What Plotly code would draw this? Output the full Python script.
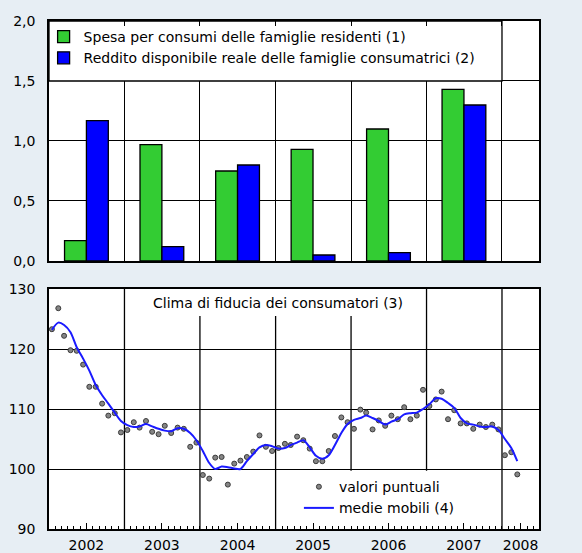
import pandas as pd
import plotly.graph_objects as go

# ---------------- data ----------------
YEARS = ["2002", "2003", "2004", "2005", "2006", "2007"]
SPESA = [0.17, 0.97, 0.75, 0.93, 1.10, 1.43]
REDDITO = [1.17, 0.12, 0.80, 0.05, 0.07, 1.30]

PUNTUALI_2002 = [123.3, 126.8, 122.2, 119.8, 119.7, 117.4, 113.7, 113.7, 110.9, 108.9, 109.3, 106.1]
PUNTUALI_2003 = [106.5, 107.8, 106.9, 108.0, 106.2, 105.8, 107.2, 106.0, 106.9, 106.7, 103.7, 104.4]
PUNTUALI_2004 = [99.0, 98.4, 101.9, 102.0, 97.4, 100.9, 101.4, 102.0, 102.9, 105.6, 103.7, 103.0]
PUNTUALI_2005 = [103.5, 104.2, 104.0, 105.4, 104.8, 103.4, 101.3, 101.3, 103.0, 105.5, 108.6, 107.8]
PUNTUALI_2006 = [106.7, 109.9, 109.4, 106.6, 108.1, 107.2, 108.9, 108.3, 110.3, 108.3, 108.9, 113.2]
PUNTUALI_2007 = [110.5, 111.6, 112.9, 108.3, 109.8, 107.6, 107.6, 106.7, 107.4, 107.0, 107.4, 106.6]
PUNTUALI_2008 = [102.3, 102.8, 99.1]

MEDIE_2002 = [123.2, 124.4, 124.0, 122.8, 120.3, 118.4, 116.4, 114.0, 112.3, 110.9, 109.4, 108.0]
MEDIE_2003 = [107.3, 107.0, 107.1, 107.5, 107.1, 106.7, 106.4, 106.3, 106.8, 106.7, 106.0, 104.8]
MEDIE_2004 = [103.0, 101.0, 100.0, 100.4, 100.3, 100.1, 100.0, 101.3, 102.5, 103.6, 104.0, 103.8]
MEDIE_2005 = [103.4, 103.5, 104.0, 104.4, 104.8, 103.6, 102.2, 101.7, 102.3, 104.0, 106.0, 107.5]
MEDIE_2006 = [108.2, 108.5, 108.9, 108.5, 108.0, 107.4, 107.9, 108.3, 109.1, 109.3, 109.4, 110.0]
MEDIE_2007 = [110.8, 111.8, 111.7, 111.0, 110.2, 108.5, 107.6, 107.4, 107.1, 107.0, 107.1, 106.5]
MEDIE_2008 = [105.0, 103.5, 101.3]

X_TICK_LABELS = ["2002", "2003", "2004", "2005", "2006", "2007", "2008"]

# ---------------- derived ----------------
puntuali = PUNTUALI_2002 + PUNTUALI_2003 + PUNTUALI_2004 + PUNTUALI_2005 + PUNTUALI_2006 + PUNTUALI_2007 + PUNTUALI_2008
medie = MEDIE_2002 + MEDIE_2003 + MEDIE_2004 + MEDIE_2005 + MEDIE_2006 + MEDIE_2007 + MEDIE_2008
months = pd.date_range("2002-01-01", periods=len(puntuali), freq="MS") + pd.Timedelta(days=14)
bar_x = [f"{y}-07-01" for y in YEARS]
boundaries = [f"{int(y) + 1}-01-01" for y in YEARS]
label_pos = [f"{y}-07-01" for y in YEARS] + ["2008-03-31"]

X_RANGE = ["2002-01-01", "2008-06-28"]
FONT = "DejaVu Sans"
BG = "#e7eef4"
GRID_W = 1.3

fig = go.Figure()

fig.add_trace(go.Bar(x=bar_x, y=SPESA, name="Spesa per consumi delle famiglie residenti (1)",
                     marker=dict(color="#33cc33", line=dict(color="black", width=1.3)),
                     xaxis="x", yaxis="y", legend="legend", legendgroup="a"))
fig.add_trace(go.Bar(x=bar_x, y=REDDITO, name="Reddito disponibile reale delle famiglie consumatrici (2)",
                     marker=dict(color="#0000ff", line=dict(color="black", width=1.3)),
                     xaxis="x", yaxis="y", legend="legend", legendgroup="b"))

fig.add_trace(go.Scatter(x=months, y=puntuali, mode="markers", name="valori puntuali",
                         marker=dict(symbol="circle", size=5, color="#858585",
                                     line=dict(color="#3c3c3c", width=1)),
                         xaxis="x2", yaxis="y2", legend="legend2", legendgroup="c"))
fig.add_trace(go.Scatter(x=months, y=medie, mode="lines", name="medie mobili (4)",
                         line=dict(color="#1a1aff", width=2, shape="spline", smoothing=0.8),
                         xaxis="x2", yaxis="y2", legend="legend2", legendgroup="d"))

shapes = []
# white legend box, top panel
shapes.append(dict(type="rect", xref="x", yref="y", x0=X_RANGE[0], x1="2008-01-01", y0=1.5, y1=2.0,
                   fillcolor="white", line=dict(color="black", width=GRID_W), layer="between"))
# year gridlines, bottom panel
for b in boundaries:
    shapes.append(dict(type="line", xref="x2", yref="y2", x0=b, x1=b, y0=90, y1=130,
                       line=dict(color="black", width=GRID_W), layer="below"))
# white boxes in bottom panel (title and legend)
shapes.append(dict(type="rect", xref="x2", yref="y2", x0="2003-05-01", x1="2006-09-20", y0=125.5, y1=130,
                   fillcolor="white", line=dict(width=0), layer="between"))
shapes.append(dict(type="rect", xref="x2", yref="y2", x0="2005-04-25", x1="2007-07-25", y0=90, y1=99.7,
                   fillcolor="white", line=dict(width=0), layer="between"))

axis_common = dict(showline=True, linecolor="black", linewidth=1.5, color="black", automargin=False)
grid = dict(showgrid=True, gridcolor="black", gridwidth=GRID_W)

fig.update_layout(
    width=582, height=553,
    margin=dict(l=49, r=43, t=21, b=24, autoexpand=False),
    paper_bgcolor=BG, plot_bgcolor="white",
    font=dict(family=FONT, size=14, color="black"),
    separators=",.",
    barmode="group", bargap=0.42, bargroupgap=0,
    shapes=shapes,
    xaxis=dict(domain=[0, 1], anchor="y", type="date", range=X_RANGE,
               tickvals=boundaries, showticklabels=False, ticks="inside", ticklen=5,
               tickcolor="black", tickwidth=1.3, mirror="ticks", **grid, **axis_common),
    yaxis=dict(domain=[0.5276, 1], anchor="x", range=[0, 2], tickvals=[0, 0.5, 1, 1.5, 2],
               tickformat=".1f", mirror=True, ticks="", ticklabelstandoff=9, zeroline=False,
               **grid, **axis_common),
    yaxis3=dict(overlaying="y", anchor="x", side="right", range=[0, 2], tickvals=[0, 0.5, 1, 1.5, 2],
                tickformat=".1f", ticks="", ticklabelstandoff=11, zeroline=False,
                showline=False, color="black", automargin=False, **grid),
    xaxis2=dict(domain=[0, 1], anchor="y2", type="date", range=X_RANGE,
                tickvals=label_pos, ticktext=X_TICK_LABELS, ticks="inside", ticklen=6,
                tickcolor="black", tickwidth=1, showgrid=False, mirror=True, ticklabelstandoff=2,
                minor=dict(dtick="M1", tick0="2002-01-01", ticks="inside", ticklen=3,
                           tickcolor="black", tickwidth=1, showgrid=False),
                **axis_common),
    yaxis2=dict(domain=[0, 0.4724], anchor="x2", range=[90, 130], tickvals=[90, 100, 110, 120, 130],
                mirror=True, ticks="", ticklabelstandoff=9, zeroline=False, **grid, **axis_common),
    yaxis4=dict(overlaying="y2", anchor="x2", side="right", range=[90, 130],
                tickvals=[90, 100, 110, 120, 130], ticks="", ticklabelstandoff=11,
                zeroline=False, showline=False, color="black", automargin=False, **grid),
    legend=dict(x=-0.011, y=1.0, xanchor="left", yanchor="top", bgcolor="rgba(0,0,0,0)",
                font=dict(size=14), tracegroupgap=0, traceorder="normal"),
    legend2=dict(x=0.51, y=0.114, xanchor="left", yanchor="top", bgcolor="rgba(0,0,0,0)",
                 font=dict(size=14), tracegroupgap=2, traceorder="normal"),
    annotations=[dict(text="Clima di fiducia dei consumatori (3)", xref="x2", yref="y2",
                      x="2005-01-12", y=127.7, showarrow=False, font=dict(size=14))],
)

fig.write_html(
    "out.html",
    config={"displayModeBar": False},
    post_script=f"document.body.style.margin='0';document.body.style.overflow='hidden';"
                f"document.body.style.background='{BG}';",
)
